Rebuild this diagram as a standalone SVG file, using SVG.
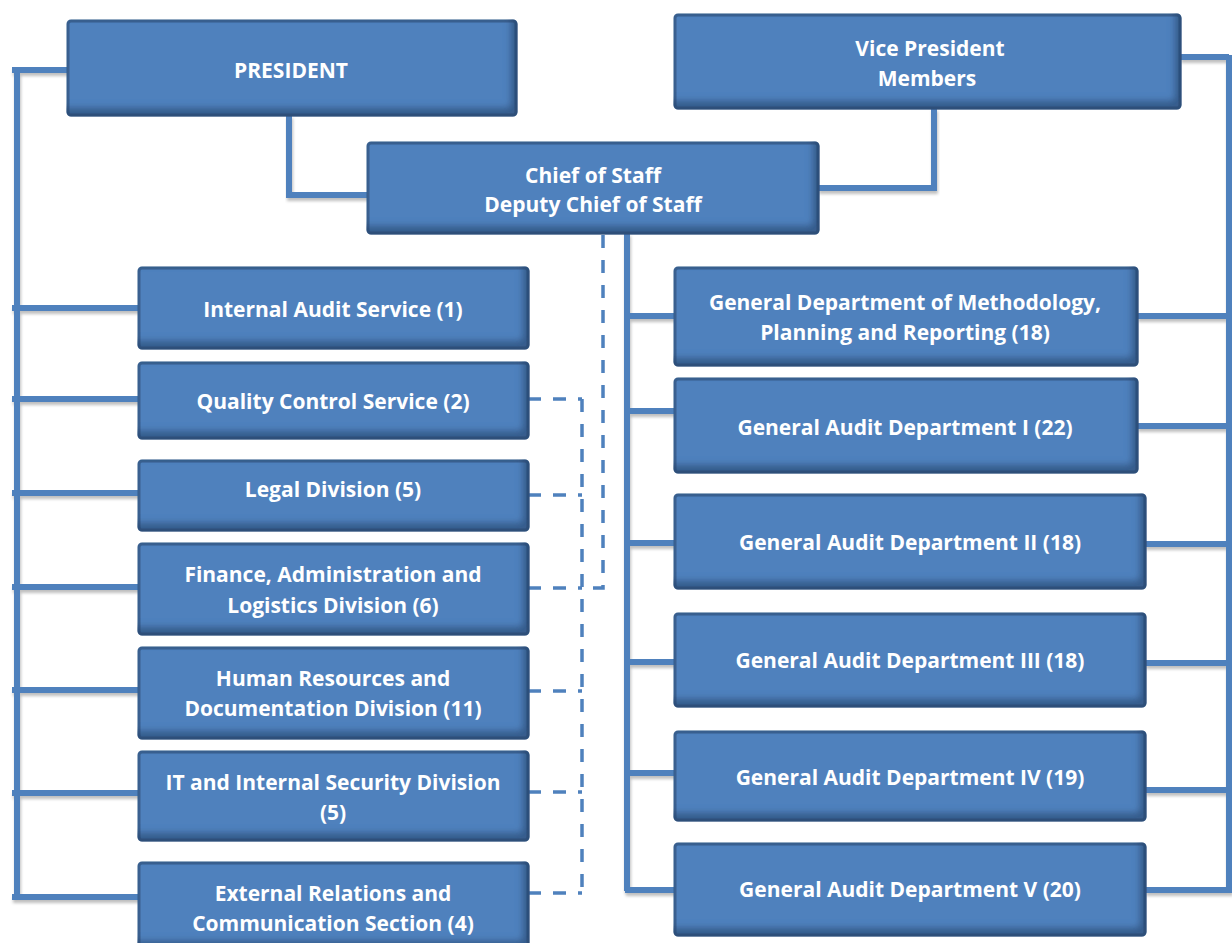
<svg xmlns="http://www.w3.org/2000/svg" width="1232" height="943" viewBox="0 0 1232 943">
<defs>
<filter id="sh" x="-5%" y="-5%" width="110%" height="130%"><feDropShadow dx="1" dy="3" stdDeviation="1.5" flood-color="#000" flood-opacity="0.25"/></filter>
<filter id="inner" x="-3%" y="-5%" width="106%" height="110%">
<feOffset in="SourceAlpha" dx="-7" dy="-9" result="o"/>
<feGaussianBlur in="o" stdDeviation="3" result="b"/>
<feComposite in="SourceAlpha" in2="b" operator="out" result="inv"/>
<feFlood flood-color="#27466f" flood-opacity="0.7"/>
<feComposite in2="inv" operator="in" result="s"/>
<feMerge><feMergeNode in="SourceGraphic"/><feMergeNode in="s"/></feMerge>
</filter>
</defs>
<style>
.box{fill:#4f81bd;stroke:#3b6090;stroke-width:3;filter:url(#inner)}
.t{font-family:"Open Sans",Lato,sans-serif;font-weight:700;font-size:21px;fill:#fff;text-anchor:middle}
.c{fill:none;stroke:#4f81bd;stroke-width:6;filter:url(#sh)}
.d{fill:none;stroke:#4f81bd;stroke-width:3.5;stroke-dasharray:13 12}
</style>
<g id="connectors">
<path class="c" d="M12 70H68M17 68V899M12 308H140M12 399H140M12 493H140M12 587H140M12 690H140M12 793H140M12 897H140"/>
<path class="c" d="M289 115V195H368"/>
<path class="c" d="M934 108V188H818"/>
<path class="c" d="M1180 57H1229M1229 55V892M1137 316H1232M1137 426H1232M1145 544H1232M1145 663H1232M1145 790H1232M1145 890H1232"/>
<path class="c" d="M627 233V891M625 316H675M625 411H675M625 543H675M625 662H675M625 773H675M625 890H675"/>
<path class="d" d="M603 235V588H582"/>
<path class="d" d="M582 399V896"/>
<path class="d" d="M528 399H582M528 495H582M528 588H582M528 691H582M528 792H582M528 893H582"/>
</g>
<g id="president"><rect class="box" x="68" y="21" width="448" height="94" rx="3"/><text class="t" x="291" y="78">PRESIDENT</text></g>
<g id="vicepresident"><rect class="box" x="675" y="15" width="505" height="93" rx="3"/><text class="t" x="930" y="56">Vice President</text><text class="t" x="927" y="86">Members</text></g>
<g id="chief"><rect class="box" x="368" y="143" width="450" height="90" rx="3"/><text class="t" x="593" y="183">Chief of Staff</text><text class="t" x="593" y="212">Deputy Chief of Staff</text></g>
<g id="ias"><rect class="box" x="139" y="268" width="389" height="80" rx="3"/><text class="t" x="333" y="317">Internal Audit Service (1)</text></g>
<g id="qcs"><rect class="box" x="139" y="363" width="389" height="75" rx="3"/><text class="t" x="333" y="409">Quality Control Service (2)</text></g>
<g id="legal"><rect class="box" x="139" y="461" width="389" height="69" rx="3"/><text class="t" x="333" y="497">Legal Division (5)</text></g>
<g id="finance"><rect class="box" x="139" y="544" width="389" height="90" rx="3"/><text class="t" x="333" y="582">Finance, Administration and</text><text class="t" x="333" y="613">Logistics Division (6)</text></g>
<g id="hr"><rect class="box" x="139" y="648" width="389" height="90" rx="3"/><text class="t" x="333" y="686">Human Resources and</text><text class="t" x="333" y="716">Documentation Division (11)</text></g>
<g id="it"><rect class="box" x="139" y="752" width="389" height="88" rx="3"/><text class="t" x="333" y="790">IT and Internal Security Division</text><text class="t" x="333" y="820">(5)</text></g>
<g id="external"><rect class="box" x="139" y="863" width="389" height="85" rx="3"/><text class="t" x="333" y="901">External Relations and</text><text class="t" x="333" y="931">Communication Section (4)</text></g>
<g id="gdm"><rect class="box" x="675" y="268" width="462" height="97" rx="3"/><text class="t" x="905" y="310">General Department of Methodology,</text><text class="t" x="905" y="340">Planning and Reporting (18)</text></g>
<g id="gad1"><rect class="box" x="675" y="379" width="462" height="93" rx="3"/><text class="t" x="905" y="435">General Audit Department I (22)</text></g>
<g id="gad2"><rect class="box" x="675" y="495" width="470" height="93" rx="3"/><text class="t" x="910" y="550">General Audit Department II (18)</text></g>
<g id="gad3"><rect class="box" x="675" y="614" width="470" height="92" rx="3"/><text class="t" x="910" y="668">General Audit Department III (18)</text></g>
<g id="gad4"><rect class="box" x="675" y="732" width="470" height="88" rx="3"/><text class="t" x="910" y="785">General Audit Department IV (19)</text></g>
<g id="gad5"><rect class="box" x="675" y="844" width="470" height="91" rx="3"/><text class="t" x="910" y="897">General Audit Department V (20)</text></g>
</svg>
